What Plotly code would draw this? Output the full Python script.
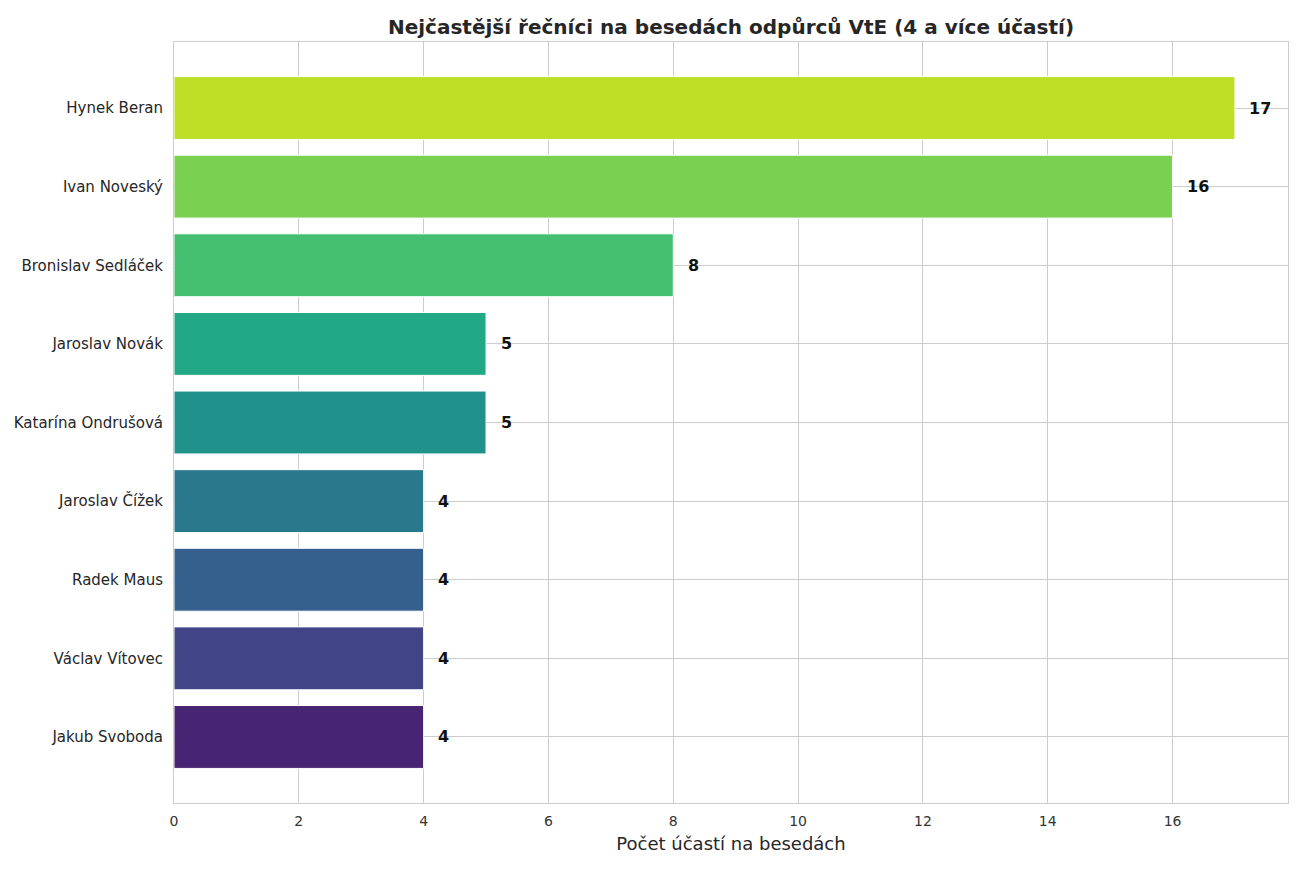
import plotly.graph_objects as go

names = ["Hynek Beran", "Ivan Noveský", "Bronislav Sedláček", "Jaroslav Novák",
         "Katarína Ondrušová", "Jaroslav Čížek", "Radek Maus", "Václav Vítovec", "Jakub Svoboda"]
counts = [17, 16, 8, 5, 5, 4, 4, 4, 4]
colors = ["#bddf26", "#7ad151", "#44bf70", "#22a884", "#21918c",
          "#2a788e", "#355f8d", "#414487", "#482475"]
x_ticks = [0, 2, 4, 6, 8, 10, 12, 14, 16]

title = "Nejčastější řečníci na besedách odpůrců VtE (4 a více účastí)"
x_title = "Počet účastí na besedách"

# plot bottom-to-top (last name at the bottom)
y_order = names[::-1]

fig = go.Figure()
fig.add_trace(go.Bar(
    x=counts, y=names, orientation="h",
    marker=dict(color=colors, line=dict(color="white", width=1)),
    width=0.8, hoverinfo="x+y", showlegend=False,
))

for n, c in zip(names, counts):
    fig.add_annotation(x=c + 0.2, y=n, text=f"<b>{c}</b>", showarrow=False,
                       xanchor="left", yanchor="middle",
                       font=dict(family="DejaVu Sans", size=16, color="#111111"))

fig.update_layout(
    width=1300, height=872,
    margin=dict(l=174, r=12, t=42, b=69),
    paper_bgcolor="white", plot_bgcolor="white",
    title=dict(text=f"<b>{title}</b>", x=0.5, xref="paper", xanchor="center",
               y=0.969, yref="container", yanchor="middle",
               font=dict(family="DejaVu Sans", size=20, color="#262626")),
    font=dict(family="DejaVu Sans", color="#262626"),
    bargap=0.2,
)
fig.update_xaxes(
    range=[0, 17.85], tickvals=x_ticks, ticktext=[str(t) for t in x_ticks],
    showgrid=True, gridcolor="#cccccc", gridwidth=1,
    showline=True, linecolor="#cccccc", linewidth=1, mirror=True,
    zeroline=False, ticks="", ticklabelstandoff=5,
    tickfont=dict(family="DejaVu Sans", size=14, color="#333333"),
    title=dict(text=x_title, font=dict(family="DejaVu Sans", size=18, color="#262626"), standoff=9),
)
fig.update_yaxes(
    type="category", categoryorder="array", categoryarray=y_order,
    range=[-0.84, 8.84],
    showgrid=True, gridcolor="#cccccc", gridwidth=1,
    showline=True, linecolor="#cccccc", linewidth=1, mirror=True,
    zeroline=False, ticks="", ticklabelstandoff=7,
    tickfont=dict(family="DejaVu Sans", size=15, color="#262626"),
)

fig.write_html("out.html")
